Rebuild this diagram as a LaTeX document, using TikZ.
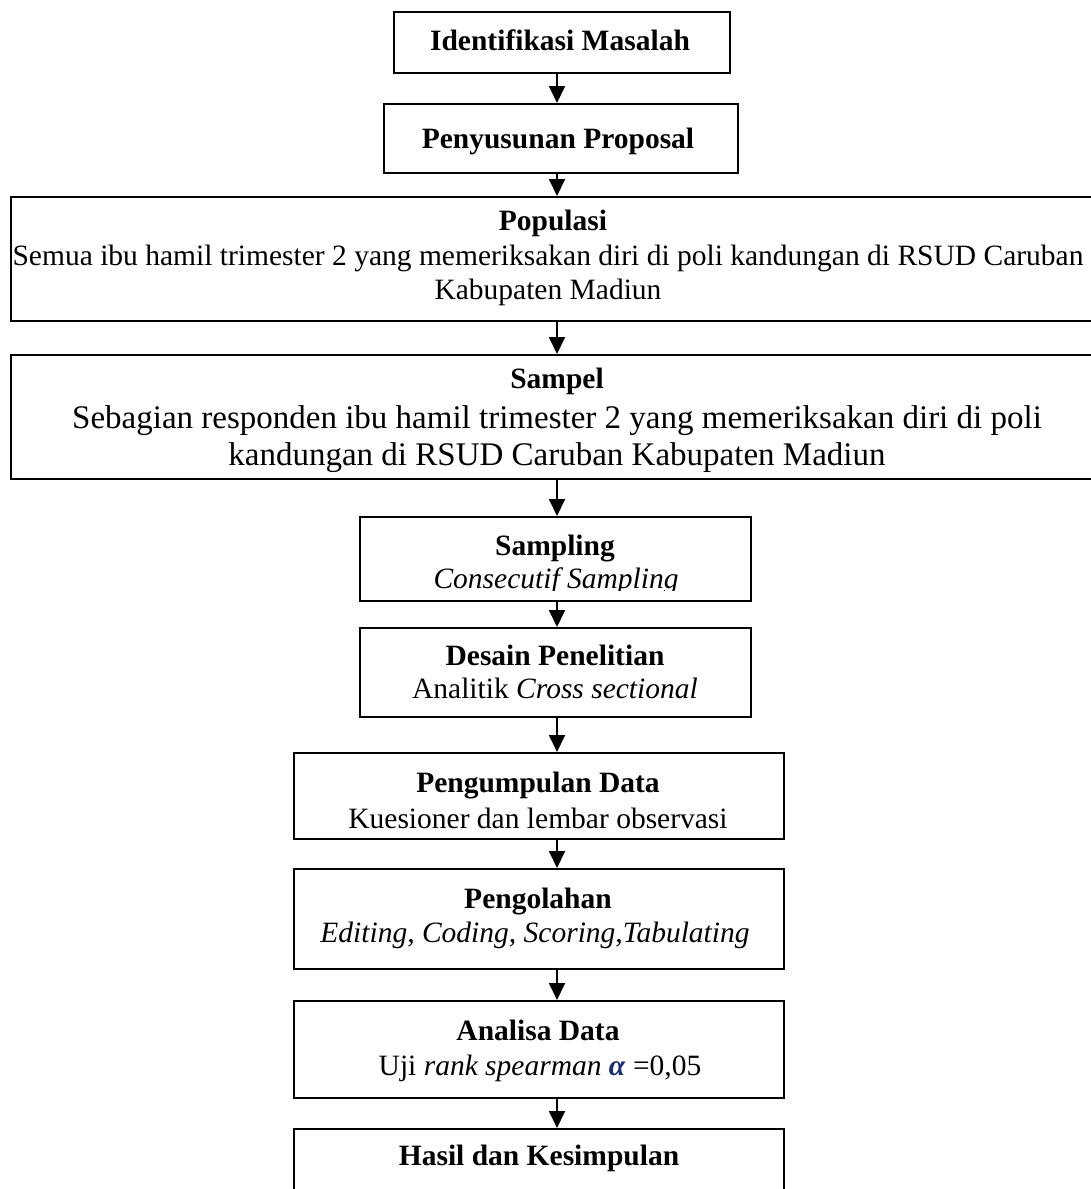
\documentclass[tikz,border=0pt]{standalone}
\usepackage{fontspec}
\setmainfont{Liberation Serif}
\usetikzlibrary{arrows.meta}
\definecolor{alphablue}{RGB}{25,45,120}
\begin{document}
\begin{tikzpicture}[x=1pt,y=-1pt,
  stepbox/.style={draw=black, line width=1.8pt, rectangle, inner sep=0pt, anchor=north west},
  ttl/.style={anchor=base, inner sep=0pt, font=\fontsize{29.5}{34}\selectfont\bfseries},
  txt/.style={anchor=base, inner sep=0pt, font=\fontsize{29.5}{34}\selectfont},
  bigtxt/.style={anchor=base, inner sep=0pt, font=\fontsize{33}{38}\selectfont},
  arr/.style={line width=1.8pt, -{Triangle[width=16pt,length=17pt]}}
]
\useasboundingbox (0,0) rectangle (1091,1189);
\clip (0,0) rectangle (1091,1189);
\fill[white] (0,0) rectangle (1091,1189);

% boxes
\node[stepbox, minimum width=336pt, minimum height=61pt]  (b1)  at (393,11)   {};
\node[stepbox, minimum width=354pt, minimum height=69pt]  (b2)  at (383,103)  {};
\node[stepbox, minimum width=1120pt, minimum height=124pt] (b3) at (10,196)   {};
\node[stepbox, minimum width=1120pt, minimum height=124pt] (b4) at (10,354)   {};
\node[stepbox, minimum width=391pt, minimum height=84pt]  (b5)  at (359,516)  {};
\node[stepbox, minimum width=391pt, minimum height=89pt]  (b6)  at (359,627)  {};
\node[stepbox, minimum width=490pt, minimum height=86pt]  (b7)  at (293,752)  {};
\node[stepbox, minimum width=490pt, minimum height=100pt] (b8)  at (293,868)  {};
\node[stepbox, minimum width=490pt, minimum height=97pt]  (b9)  at (293,1000) {};
\node[stepbox, minimum width=490pt, minimum height=110pt] (b10) at (293,1128) {};

% texts
\node[ttl] (t1) at (560,50) {Identifikasi Masalah};
\node[ttl] (t2) at (558,148) {Penyusunan Proposal};
\node[ttl] (t3) at (553,230) {Populasi};
\node[txt] (t3a) at (548,265) {Semua ibu hamil trimester 2 yang memeriksakan diri di poli kandungan di RSUD Caruban};
\node[txt] (t3b) at (548,299) {Kabupaten Madiun};
\node[ttl] (t4) at (557,388) {Sampel};
\node[bigtxt] (t4a) at (557,428) {Sebagian responden ibu hamil trimester 2 yang memeriksakan diri di poli};
\node[bigtxt] (t4b) at (557,465) {kandungan di RSUD Caruban Kabupaten Madiun};
\node[ttl] (t5) at (555,555) {Sampling};
\begin{scope}
  \clip (359,516) rectangle (750,590);
  \node[txt, font=\fontsize{29.5}{34}\selectfont\itshape] (t5a) at (556,588) {Consecutif Sampling};
\end{scope}
\node[ttl] (t6) at (555,665) {Desain Penelitian};
\node[txt] (t6a) at (555,698) {Analitik \textit{Cross sectional}};
\node[ttl] (t7) at (538,792) {Pengumpulan Data};
\node[txt] (t7a) at (538,828) {Kuesioner dan lembar observasi};
\node[ttl] (t8) at (538,908) {Pengolahan};
\node[txt] (t8a) at (535,942) {\textit{Editing, Coding, Scoring,Tabulating}};
\node[ttl] (t9) at (538,1040) {Analisa Data};
\node[txt] (t9a) at (540,1075) {Uji \textit{rank spearman} {\color{alphablue}\textbf{\textit{α}}} =0,05};
\node[ttl] (t10) at (539,1165) {Hasil dan Kesimpulan};

% arrows
\coordinate (ax) at (557,0);
\draw[arr] (b1.south -| ax) -- (b2.north -| ax);
\draw[arr] (b2.south -| ax) -- (b3.north -| ax);
\draw[arr] (b3.south -| ax) -- (b4.north -| ax);
\draw[arr] (b4.south -| ax) -- (b5.north -| ax);
\draw[arr] (b5.south -| ax) -- (b6.north -| ax);
\draw[arr] (b6.south -| ax) -- (b7.north -| ax);
\draw[arr] (b7.south -| ax) -- (b8.north -| ax);
\draw[arr] (b8.south -| ax) -- (b9.north -| ax);
\draw[arr] (b9.south -| ax) -- (b10.north -| ax);
\end{tikzpicture}
\end{document}
